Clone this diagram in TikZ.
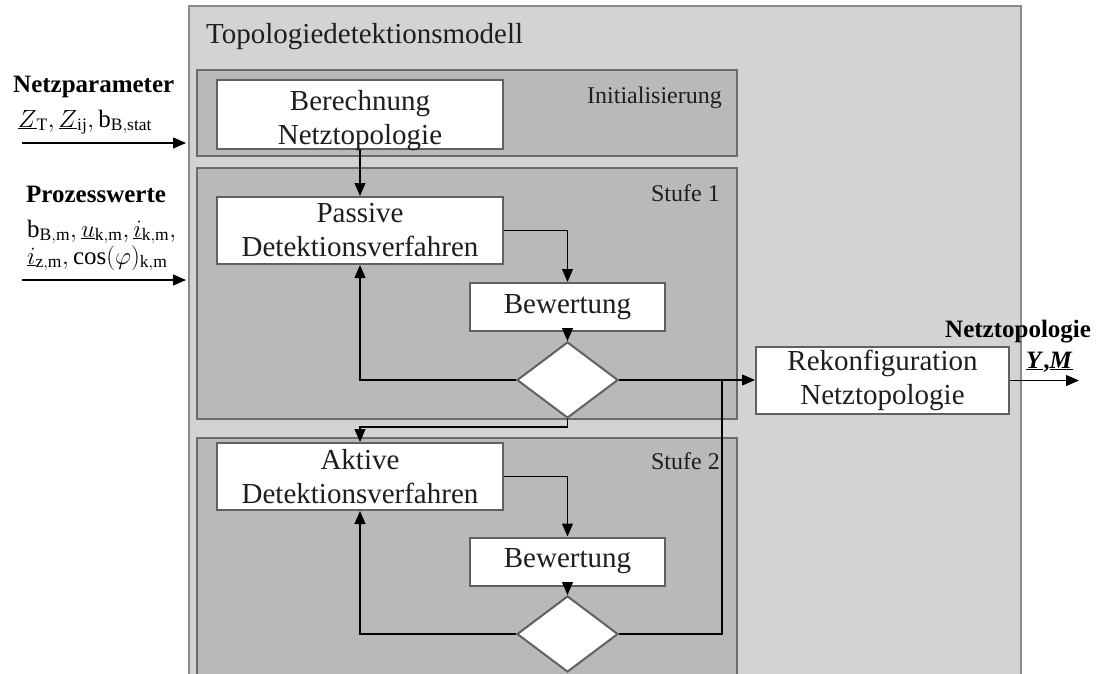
\documentclass[tikz,border=0pt]{standalone}
\usepackage{fontspec}
\setmainfont{Liberation Serif}
\usetikzlibrary{shapes.geometric,arrows.meta}

\definecolor{outerfill}{HTML}{D3D3D3}
\definecolor{outerline}{HTML}{8A8A8A}
\definecolor{stagefill}{HTML}{BAB9B7}
\definecolor{stageline}{HTML}{6C6C6C}
\definecolor{boxline}{HTML}{606060}
\definecolor{inktext}{HTML}{1E1E1E}

\tikzset{
  container/.style={draw=outerline, line width=2.2pt, fill=outerfill},
  stagebox/.style={draw=stageline, line width=2.2pt, fill=stagefill},
  proc/.style={rectangle, draw=boxline, line width=2pt, fill=white,
    inner sep=0pt, align=center, text=inktext,
    font=\fontsize{29}{34}\selectfont},
  decision/.style={diamond, draw=boxline, line width=2pt, fill=white,
    inner sep=0pt, minimum width=101pt, minimum height=76pt, aspect=1.33},
  conn/.style={draw=black, line width=1.15pt},
  arr/.style={conn, -{Triangle[length=13pt,width=11pt]}},
  stagelabel/.style={anchor=base east, inner sep=0pt, text=inktext,
    font=\fontsize{24}{28}\selectfont},
  sidehead/.style={anchor=base west, inner sep=0pt, text=black,
    font=\fontsize{25}{29}\selectfont\bfseries},
  sidevals/.style={anchor=base west, inner sep=0pt, text=black,
    font=\fontsize{25}{28}\selectfont},
}

\begin{document}
\begin{tikzpicture}[x=1pt,y=-1pt]
  \path[use as bounding box] (0,0) rectangle (1099,673);
  \clip (0,0) rectangle (1099,673);

  % model frame and its three stages
  \path[container] (189,6) rectangle (1021,700);
  \path[stagebox] (197,70) rectangle (737,156);
  \path[stagebox] (197,168) rectangle (737,419);
  \path[stagebox] (197,438) rectangle (737,720);

  \node[anchor=base west, inner sep=0pt, text=inktext,
        font=\fontsize{29}{34}\selectfont] (title) at (206,43)
        {Topologiedetektionsmodell};
  \node[stagelabel] (lblinit) at (722,103) {Initialisierung};
  \node[stagelabel] (lblst1) at (720,201) {Stufe 1};
  \node[stagelabel] (lblst2) at (720,469) {Stufe 2};

  % process blocks (the first one carries its text a little low)
  \node[proc, minimum width=286pt, minimum height=69pt] (berech) at (360,114.5)
        {\raisebox{-12.5pt}[0pt][0pt]{\begin{tabular}{@{}c@{}}Berechnung\\Netztopologie\end{tabular}}};
  \node[proc, minimum width=286pt, minimum height=67pt] (passive) at (360,230.5)
        {Passive\\Detektionsverfahren};
  \node[proc, minimum width=195pt, minimum height=48pt] (bew1) at (567.5,307)
        {Bewertung};
  \node[decision] (dia1) at (567.5,380) {};

  \node[proc, minimum width=286pt, minimum height=67pt] (aktive) at (360,476.5)
        {Aktive\\Detektionsverfahren};
  \node[proc, minimum width=195pt, minimum height=48pt] (bew2) at (567.5,561.5)
        {Bewertung};
  \node[decision] (dia2) at (567.5,634) {};

  \node[proc, minimum width=253pt, minimum height=67pt] (rekon) at (882.5,380.5)
        {Rekonfiguration\\Netztopologie};

  % flow inside stage 1
  \draw[arr] (berech.south) -- (passive.north);
  \draw[arr] (passive.east) -| (bew1.north);
  \draw[arr] (bew1.south) -- (dia1.north);
  \draw[arr] (dia1.west) -| (passive.south);
  \draw[arr] (dia1.east) -- (dia1.east -| rekon.west);

  % transition to stage 2 and flow inside it
  \draw[arr] (dia1.south) -- ++(0,8) -| (aktive.north);
  \draw[arr] (aktive.east) -| (bew2.north);
  \draw[arr] (bew2.south) -- (dia2.north);
  \draw[arr] (dia2.west) -| (aktive.south);
  \coordinate (merge) at (722,380);
  \draw[conn] (dia2.east) -| (merge);

  % inputs
  \coordinate (inAs) at (22,143);
  \coordinate (inAe) at (186,143);
  \coordinate (inBs) at (22,280);
  \coordinate (inBe) at (186,280);
  \draw[arr] (inAs) -- (inAe);
  \draw[arr] (inBs) -- (inBe);

  \node[sidehead] (hdA) at (13,92) {Netzparameter};
  \node[sidevals] (valA) at (18,127)
        {$\underline{Z}_{\mathrm{T}}, \underline{Z}_{\mathrm{ij}}, \mathrm{b}_{\mathrm{B,stat}}$};
  \node[sidehead] (hdB) at (26,202) {Prozesswerte};
  \node[sidevals] (valB) at (27,237)
        {$\mathrm{b}_{\mathrm{B,m}}, \underline{u}_{\mathrm{k,m}}, \underline{i}_{\mathrm{k,m}},$};
  \node[sidevals] (valC) at (27,264)
        {$\underline{i}_{\mathrm{z,m}}, \cos(\varphi)_{\mathrm{k,m}}$};

  % output
  \coordinate (outE) at (1079,380.5);
  \draw[arr] (rekon.east) -- (outE);
  \node[sidehead] (hdOut) at (945,337) {Netztopologie};
  \node[sidehead] (valOut) at (1026,368)
        {\underline{\textit{Y}},\underline{\textit{M}}};
\end{tikzpicture}
\end{document}
